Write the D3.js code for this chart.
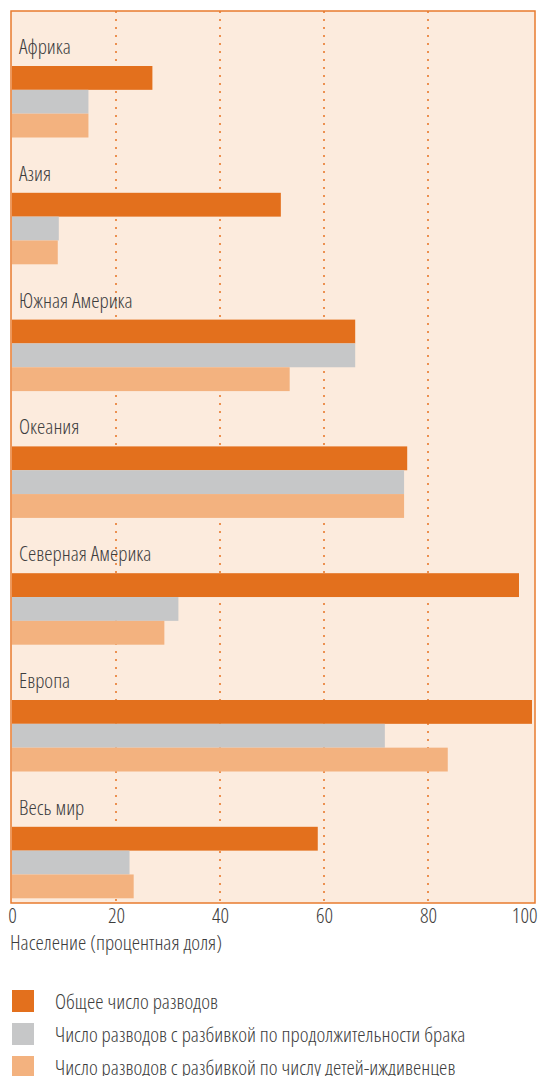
<!DOCTYPE html>
<html>
<head>
<meta charset="utf-8">
<script src="https://cdn.jsdelivr.net/npm/d3@7"></script>
<style>
  body { margin: 0; background: #fff; }
  svg text { font-family: "Open Sans", sans-serif; font-stretch: 75%; font-weight: 300; fill: #3d3d3d; }
</style>
</head>
<body>
<div class="myChart"></div>
<script>
var regions = ["Африка", "Азия", "Южная Америка", "Океания", "Северная Америка", "Европа", "Весь мир"];
var seriesNames = ["Общее число разводов",
  "Число разводов с разбивкой по продолжительности брака",
  "Число разводов с разбивкой по числу детей-иждивенцев"];
var totalDiv = [27, 51.7, 66, 76, 97.5, 100, 58.8];
var byDuration = [14.7, 9, 66, 75.4, 32, 71.7, 22.6];
var byChildren = [14.7, 8.8, 53.4, 75.4, 29.3, 83.8, 23.4];
var tickValues = [0, 20, 40, 60, 80, 100];
var colors = ["#e3701d", "#c6c7c8", "#f3b27f"];

var svgWidth = 540;
var svgHeight = 1076;

var svg = d3.select(".myChart")
  .append("svg")
  .attr("width", svgWidth)
  .attr("height", svgHeight);

var panel = { left: 11, right: 535, top: 11, bottom: 903 };

var xScale = d3.scaleLinear().domain([0, 100]).range([12, 532]);
var yOuter = d3.scaleBand().domain(regions).range([66, 66 + 7 * 126.8]);
var yInner = d3.scaleBand().domain([0, 1, 2]).range([0, 71.5]);

// background panel
svg.append("rect")
  .attr("x", panel.left)
  .attr("y", panel.top)
  .attr("width", panel.right - panel.left)
  .attr("height", panel.bottom - panel.top)
  .attr("fill", "#fcebdd");

// dotted grid
svg.append("g")
  .selectAll("line")
  .data(tickValues.slice(1, 5))
  .enter().append("line")
    .attr("x1", function(d) { return xScale(d); })
    .attr("x2", function(d) { return xScale(d); })
    .attr("y1", panel.top)
    .attr("y2", panel.bottom)
    .attr("stroke", "#e87b2e")
    .attr("stroke-width", 1.6)
    .attr("stroke-dasharray", "2,6");

var data = regions.map(function(r, i) {
  return { region: r, values: [totalDiv[i], byDuration[i], byChildren[i]] };
});

var groups = svg.selectAll(".grp")
  .data(data)
  .enter().append("g")
  .attr("class", "grp")
  .attr("transform", function(d) { return "translate(0," + yOuter(d.region) + ")"; });

groups.selectAll("rect")
  .data(function(d) { return d.values; })
  .enter().append("rect")
    .attr("x", xScale(0))
    .attr("y", function(d, i) { return yInner(i); })
    .attr("width", function(d) { return xScale(d) - xScale(0); })
    .attr("height", yInner.bandwidth())
    .attr("fill", function(d, i) { return colors[i]; });

groups.append("text")
  .attr("x", 19)
  .attr("y", -12)
  .style("font-size", "21px")
  .text(function(d) { return d.region; });

// panel border
svg.append("rect")
  .attr("x", panel.left)
  .attr("y", panel.top)
  .attr("width", panel.right - panel.left)
  .attr("height", panel.bottom - panel.top)
  .attr("fill", "none")
  .attr("stroke", "#e87b2e")
  .attr("stroke-width", 1.5);

// x axis
var bottomAxis = d3.axisBottom(xScale)
  .tickValues(tickValues)
  .tickSize(0)
  .tickPadding(5);

var axisG = svg.append("g")
  .attr("transform", "translate(0," + panel.bottom + ")")
  .call(bottomAxis);
axisG.select(".domain").remove();
axisG.selectAll("text")
  .style("font-size", "21px")
  .style("font-family", null)
  .attr("fill", null);
axisG.selectAll(".tick")
  .filter(function(d) { return d === 100; })
  .select("text")
  .attr("text-anchor", "end")
  .attr("dx", 5);

svg.append("text")
  .attr("x", 10)
  .attr("y", 950)
  .style("font-size", "21px")
  .text("Население (процентная доля)");

// legend
var legend = svg.append("g")
  .selectAll("g")
  .data(seriesNames)
  .enter().append("g")
  .attr("transform", function(d, i) { return "translate(12," + (990 + i * 33) + ")"; });

legend.append("rect")
  .attr("width", 22)
  .attr("height", 22)
  .attr("fill", function(d, i) { return colors[i]; });

legend.append("text")
  .attr("x", 43)
  .attr("y", 19)
  .style("font-size", "21px")
  .text(function(d) { return d; });
</script>
</body>
</html>
